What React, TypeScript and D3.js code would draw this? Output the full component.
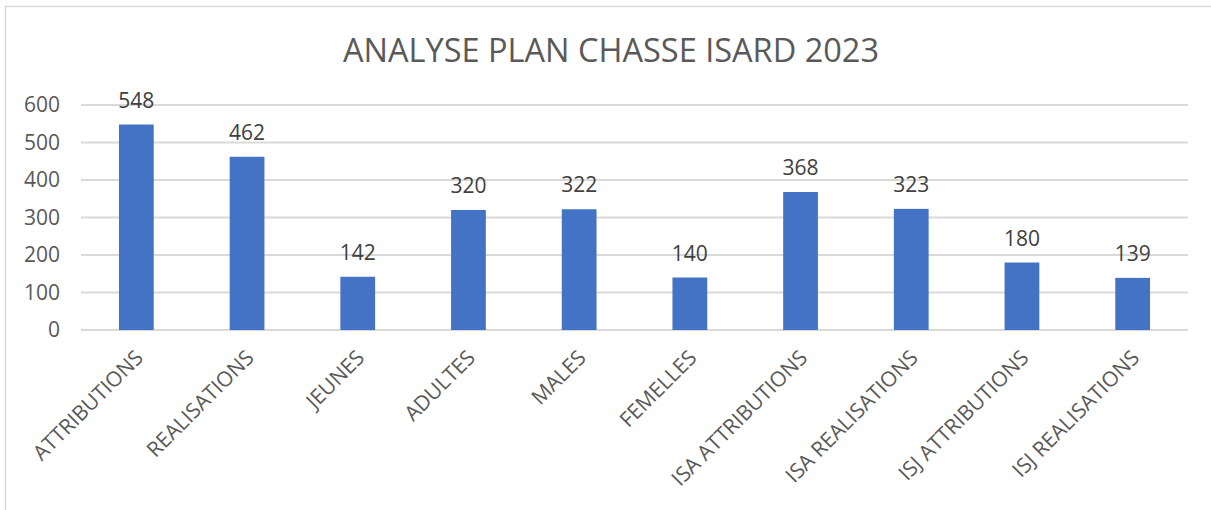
import { useEffect, useRef } from "react";
import * as d3 from "d3";

const categories = [
    "ATTRIBUTIONS",
    "REALISATIONS",
    "JEUNES",
    "ADULTES",
    "MALES",
    "FEMELLES",
    "ISA ATTRIBUTIONS",
    "ISA REALISATIONS",
    "ISJ ATTRIBUTIONS",
    "ISJ REALISATIONS",
];
const values = [548, 462, 142, 320, 322, 140, 368, 323, 180, 139];
const yTicks = [0, 100, 200, 300, 400, 500, 600];
const title = "ANALYSE PLAN CHASSE ISARD 2023";

export default function App() {
    const svgRef = useRef<SVGSVGElement | null>(null);

    useEffect(() => {
        if (!svgRef.current) return;
        const root = d3.select(svgRef.current);
        root.selectAll("*").remove();

        const width = 1211;
        const height = 510;
        const font = "'Open Sans', sans-serif";

        // chart frame
        root.append("rect")
            .attr("x", 5.5)
            .attr("y", 6.5)
            .attr("width", width + 10)
            .attr("height", height + 10)
            .attr("fill", "#fff")
            .attr("stroke", "#d9d9d9")
            .attr("stroke-width", 1.5);

        // title
        root.append("text")
            .attr("x", 611)
            .attr("y", 62)
            .attr("text-anchor", "middle")
            .attr("font-family", font)
            .attr("font-size", "32.5px")
            .attr("fill", "#595959")
            .text(title);

        const left = 81;
        const right = 1188;
        const top = 105;
        const bottom = 330;

        const x = d3.scaleBand().domain(categories).range([left, right]).paddingInner(0.686).paddingOuter(0.343);
        const y = d3.scaleLinear().domain([0, 600]).range([bottom, top]);

        // gridlines
        root.append("g")
            .selectAll("line")
            .data(yTicks)
            .enter()
            .append("line")
            .attr("x1", left)
            .attr("x2", right)
            .attr("y1", (d) => y(d))
            .attr("y2", (d) => y(d))
            .attr("stroke", "#d9d9d9")
            .attr("stroke-width", 2);

        // y tick labels
        root.append("g")
            .selectAll("text")
            .data(yTicks)
            .enter()
            .append("text")
            .attr("x", 60)
            .attr("y", (d) => y(d))
            .attr("dy", "0.35em")
            .attr("text-anchor", "end")
            .attr("font-family", font)
            .attr("font-size", "21px")
            .attr("fill", "#595959")
            .text((d) => d);

        // bars
        root.append("g")
            .selectAll("rect")
            .data(values)
            .enter()
            .append("rect")
            .attr("x", (_, i) => x(categories[i]) || 0)
            .attr("width", x.bandwidth())
            .attr("y", (d) => y(d))
            .attr("height", (d) => bottom - y(d))
            .attr("fill", "#4472c4");

        // value labels
        root.append("g")
            .selectAll("text")
            .data(values)
            .enter()
            .append("text")
            .attr("x", (_, i) => (x(categories[i]) || 0) + x.bandwidth() / 2)
            .attr("y", (d) => y(d) - 17)
            .attr("text-anchor", "middle")
            .attr("font-family", font)
            .attr("font-size", "21px")
            .attr("fill", "#404040")
            .text((d) => d);

        // category labels, rotated
        root.append("g")
            .selectAll("text")
            .data(categories)
            .enter()
            .append("text")
            .attr("transform", (d) => `translate(${(x(d) || 0) + x.bandwidth() / 2 + 8},${bottom + 29}) rotate(-45)`)
            .attr("text-anchor", "end")
            .attr("font-family", font)
            .attr("font-size", "21px")
            .attr("fill", "#595959")
            .text((d) => d);
    }, []);

    return (
        <svg
            ref={svgRef}
            width={1211}
            height={510}
            style={{ position: "absolute", left: 0, top: 0 }}
        />
    );
}
